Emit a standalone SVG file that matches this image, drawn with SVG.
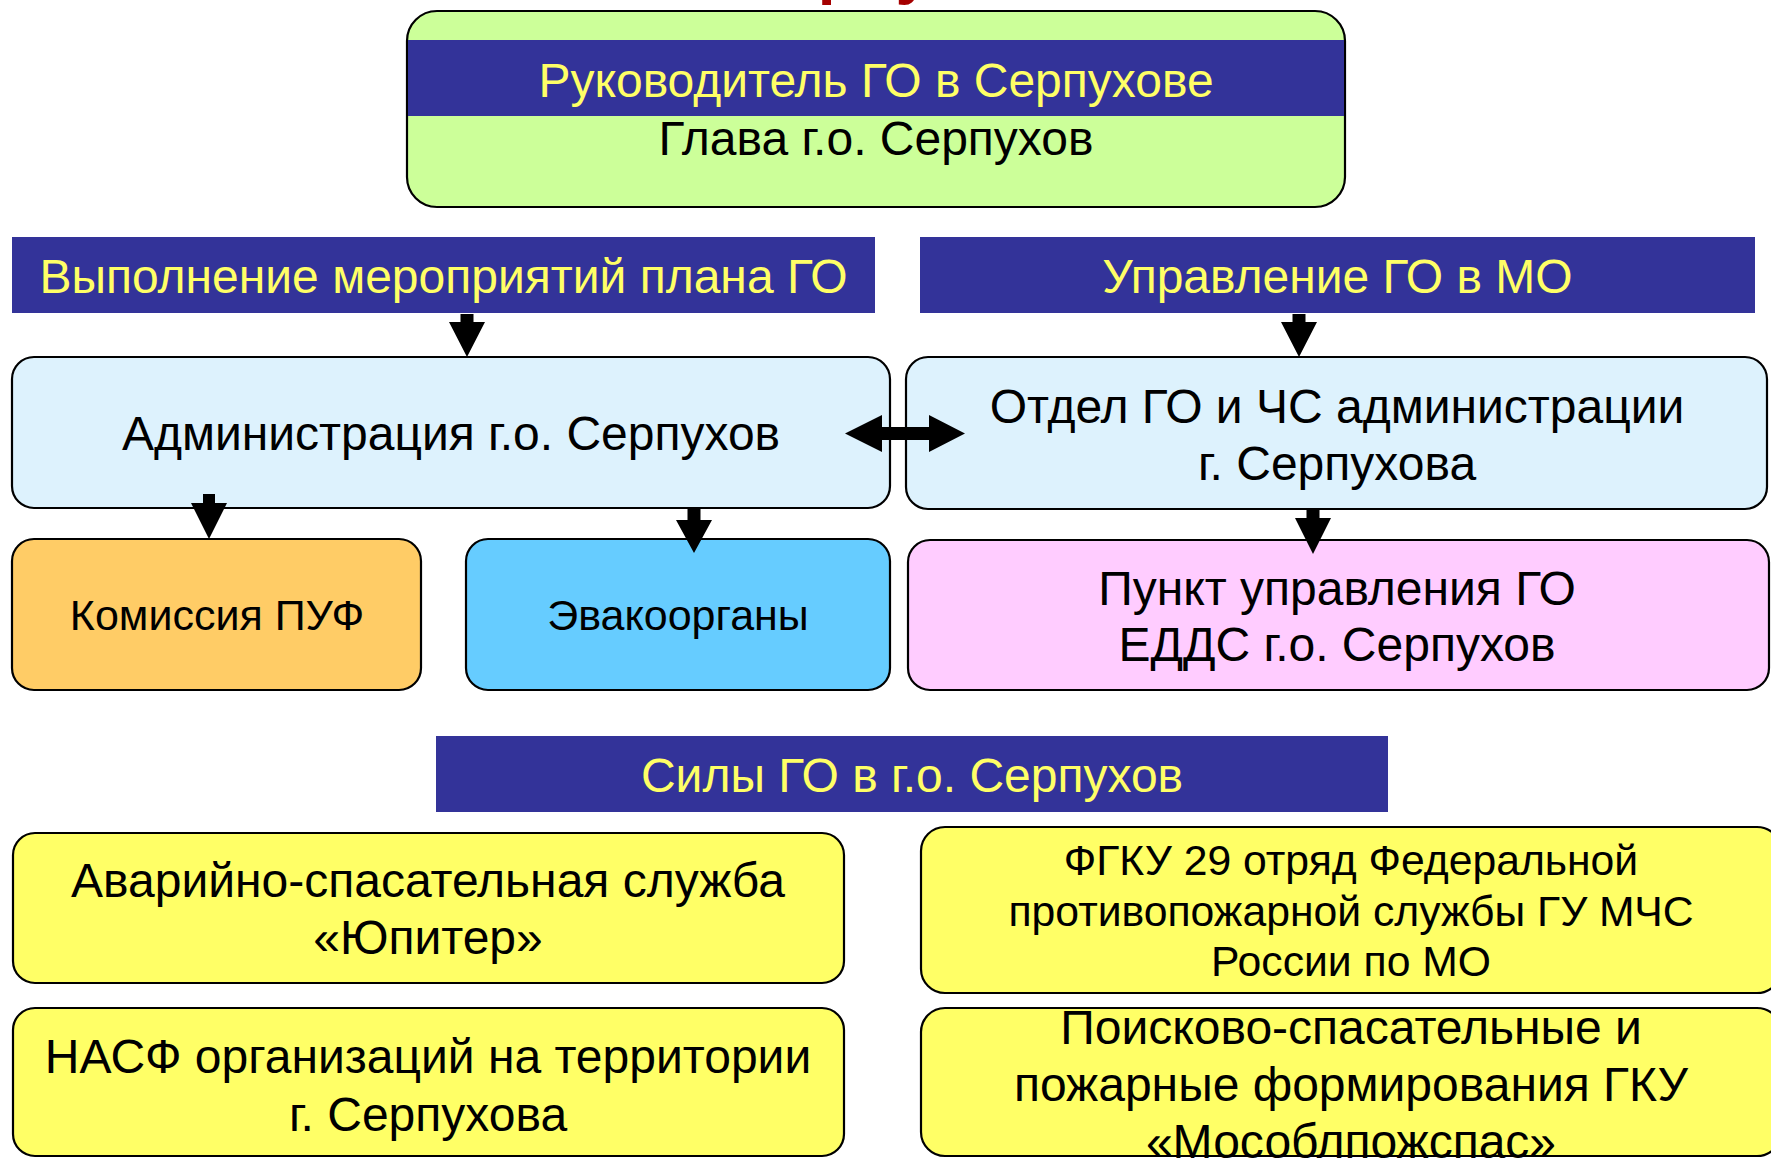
<svg xmlns="http://www.w3.org/2000/svg" width="1771" height="1158" viewBox="0 0 1771 1158">
<style>
text{font-family:"Liberation Sans",Arial,sans-serif;text-anchor:middle}
.t47{font-size:48px;fill:#000}
.t43{font-size:43px;fill:#000}
.t42{font-size:42.7px;fill:#000}
.hd{font-size:48px;fill:#FFFF66}
.band{fill:#333399}
.box{stroke:#000;stroke-width:2.2}
.arrow{fill:#000}
</style>
<rect width="1771" height="1158" fill="#fff"/>
<g id="title">
<text x="736" y="-8" style="font-size:64px;font-weight:bold;fill:#A50000;text-anchor:start">Серпухов</text>
</g>
<g id="head">
<rect class="box" x="407" y="11" width="938" height="196" rx="30" fill="#CCFF99"/>
<rect class="band" x="408" y="40" width="936" height="76"/>
<text class="hd" x="876" y="97">Руководитель ГО в Серпухове</text>
<text class="t47" x="876" y="155">Глава г.о. Серпухов</text>
</g>
<g id="hdr-left">
<rect class="band" x="12" y="237" width="863" height="76"/>
<text class="hd" x="443.5" y="293">Выполнение мероприятий плана ГО</text>
</g>
<g id="hdr-right">
<rect class="band" x="920" y="237" width="835" height="76"/>
<text class="hd" x="1337.5" y="293">Управление ГО в МО</text>
</g>
<g id="admin">
<rect class="box" x="12" y="357" width="878" height="151" rx="22" fill="#DDF2FD"/>
<text class="t47" x="451" y="450">Администрация г.о. Серпухов</text>
</g>
<g id="otdel">
<rect class="box" x="906" y="357" width="861" height="152" rx="22" fill="#DDF2FD"/>
<text class="t47" x="1337" y="423">Отдел ГО и ЧС администрации</text>
<text class="t47" x="1337" y="480">г. Серпухова</text>
</g>
<g id="komissiya">
<rect class="box" x="12" y="539" width="409" height="151" rx="22" fill="#FFCC66"/>
<text class="t43" x="217" y="630">Комиссия ПУФ</text>
</g>
<g id="evako">
<rect class="box" x="466" y="539" width="424" height="151" rx="22" fill="#66CCFF"/>
<text class="t43" x="678" y="630">Эвакоорганы</text>
</g>
<g id="punkt">
<rect class="box" x="908" y="540" width="861" height="150" rx="22" fill="#FFCCFF"/>
<text class="t47" x="1337" y="605">Пункт управления ГО</text>
<text class="t47" x="1337" y="661">ЕДДС г.о. Серпухов</text>
</g>
<g id="sily">
<rect class="band" x="436" y="736" width="952" height="76"/>
<text class="hd" x="912" y="792">Силы ГО в г.о. Серпухов</text>
</g>
<g id="avariyno">
<rect class="box" x="13" y="833" width="831" height="150" rx="22" fill="#FFFF66"/>
<text class="t47" x="428" y="897">Аварийно-спасательная служба</text>
<text class="t47" x="428" y="954">«Юпитер»</text>
</g>
<g id="nasf">
<rect class="box" x="13" y="1008" width="831" height="148" rx="22" fill="#FFFF66"/>
<text class="t47" x="428" y="1073">НАСФ организаций на территории</text>
<text class="t47" x="428" y="1131">г. Серпухова</text>
</g>
<g id="fgku">
<rect class="box" x="921" y="827" width="860" height="166" rx="24" fill="#FFFF66"/>
<text class="t42" x="1351" y="875">ФГКУ 29 отряд Федеральной</text>
<text class="t42" x="1351" y="926">противопожарной службы ГУ МЧС</text>
<text class="t42" x="1351" y="976">России по МО</text>
</g>
<g id="poiskovo">
<rect class="box" x="921" y="1008" width="860" height="148" rx="24" fill="#FFFF66"/>
<text class="t47" x="1351" y="1044">Поисково-спасательные и</text>
<text class="t47" x="1351" y="1101">пожарные формирования ГКУ</text>
<text class="t47" x="1351" y="1158">«Мособлпожспас»</text>
</g>
<g id="connectors">
<polygon class="arrow" points="460.5,314 473.5,314 473.5,322 485,322 467,357 449,322 460.5,322"/>
<polygon class="arrow" points="1292.5,314 1305.5,314 1305.5,322 1317,322 1299,357 1281,322 1292.5,322"/>
<polygon class="arrow" points="203,494 215,494 215,503 227,503 209,539 191,503 203,503"/>
<polygon class="arrow" points="687.5,508 700.5,508 700.5,520 712,520 694,553 676,520 687.5,520"/>
<polygon class="arrow" points="1306.5,508 1319.5,508 1319.5,518 1331,518 1313,554 1295,518 1306.5,518"/>
<polygon class="arrow" points="845,433.5 882,415 882,427 929,427 929,415 965,433.5 929,452 929,440 882,440 882,452"/>
</g>
</svg>
